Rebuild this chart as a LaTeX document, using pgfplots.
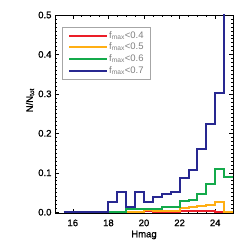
\documentclass[border=0pt]{standalone}
\usepackage{fontspec}
\setmainfont{Liberation Sans}
\newfontfamily\tickfont{Liberation Sans}[FakeBold=1.0]
\usepackage{pgfplots}
\pgfplotsset{compat=1.18}
\definecolor{cred}{RGB}{235,30,40}
\definecolor{corange}{RGB}{255,175,20}
\definecolor{cgreen}{RGB}{20,170,75}
\definecolor{cblue}{RGB}{40,40,145}
\pgfplotsset{hist/.style={const plot mark left, line width=2pt, mark=none}}
\begin{document}
\begin{tikzpicture}
\begin{axis}[
  scale only axis, width=178pt, height=198pt,
  xmin=15, xmax=25, ymin=-0.002, ymax=0.5,
  xtick={16,18,20,22,24}, minor x tick num=3,
  ytick={0,0.1,0.2,0.3,0.4,0.5}, minor y tick num=9,
  tick align=inside, major tick length=4pt, minor tick length=2pt,
  every tick/.style={black, line width=0.4pt},
  axis line style={line width=0.5pt},
  yticklabel style={/pgf/number format/.cd, fixed, fixed zerofill, precision=1},
  /pgf/number format/assume math mode=true,
  tick label style={font=\fontsize{9.5}{11}\tickfont},
  xticklabel style={yshift=-3pt},
  xlabel={Hmag}, ylabel={N/N\textsubscript{tot}},
  label style={font=\fontsize{9.5}{11}\tickfont},
  xlabel style={at={(axis description cs:0.5,-0.111)}, anchor=center},
  ylabel style={at={(axis description cs:-0.14,0.57)}, anchor=center},
  legend style={at={(axis description cs:0.039,0.939)}, anchor=north west,
    draw=gray!70, text=gray, font=\fontsize{9.5}{10.7}\selectfont,
    inner xsep=6pt, inner ysep=3pt,
    nodes={inner sep=1pt, text height=7pt, text depth=2pt},
    row sep=0.7pt},
  legend cell align=left,
  legend image code/.code={\draw[#1, line width=2pt] (0pt,0pt) -- (38pt,0pt);},
]
\addplot[hist, draw=cred] coordinates {
(15.5,0) (16,0) (16.5,0) (17,0) (17.5,0) (18,0) (18.5,0) (19,0) (19.5,0)
(20,0.003) (20.5,0.001) (21,0.001) (21.5,0.001) (22,0.002) (22.5,0.002)
(23,0.004) (23.5,0.003) (24,0.001) (24.5,0) (25,0)};
\addlegendentry{f\textsubscript{max}<0.4}
\addplot[hist, draw=corange] coordinates {
(15.5,0) (16,0) (16.5,0) (17,0) (17.5,0) (18,0) (18.5,0) (19,0) (19.5,0.001)
(20,0.005) (20.5,0.003) (21,0.003) (21.5,0.003) (22,0.010) (22.5,0.0125)
(23,0.016) (23.5,0.019) (24,0.025) (24.5,0) (25,0)};
\addlegendentry{f\textsubscript{max}<0.5}
\addplot[hist, draw=cgreen] coordinates {
(15.5,0) (16,0) (16.5,0) (17,0) (17.5,0) (18,0) (18.5,0) (19,0.008) (19.5,0.009)
(20,0.008) (20.5,0.007) (21,0.014) (21.5,0.014) (22,0.029) (22.5,0.032)
(23,0.047) (23.5,0.072) (24,0.109) (24.5,0.089) (25,0.089)};
\addlegendentry{f\textsubscript{max}<0.6}
\addplot[hist, draw=cblue] coordinates {
(15.5,0) (16,0) (16.5,0) (17,0) (17.5,0) (18,0.027) (18.5,0.052) (19,0.012) (19.5,0.052)
(20,0.025) (20.5,0.038) (21,0.045) (21.5,0.050) (22,0.087) (22.5,0.108)
(23,0.160) (23.5,0.224) (24,0.301) (24.5,0.62) (25,0.62)};
\addlegendentry{f\textsubscript{max}<0.7}
\end{axis}
\pgfresetboundingbox
\path (current axis.south west) ++(-55pt,-36pt) rectangle ++(249pt,249pt);
\end{tikzpicture}
\end{document}
